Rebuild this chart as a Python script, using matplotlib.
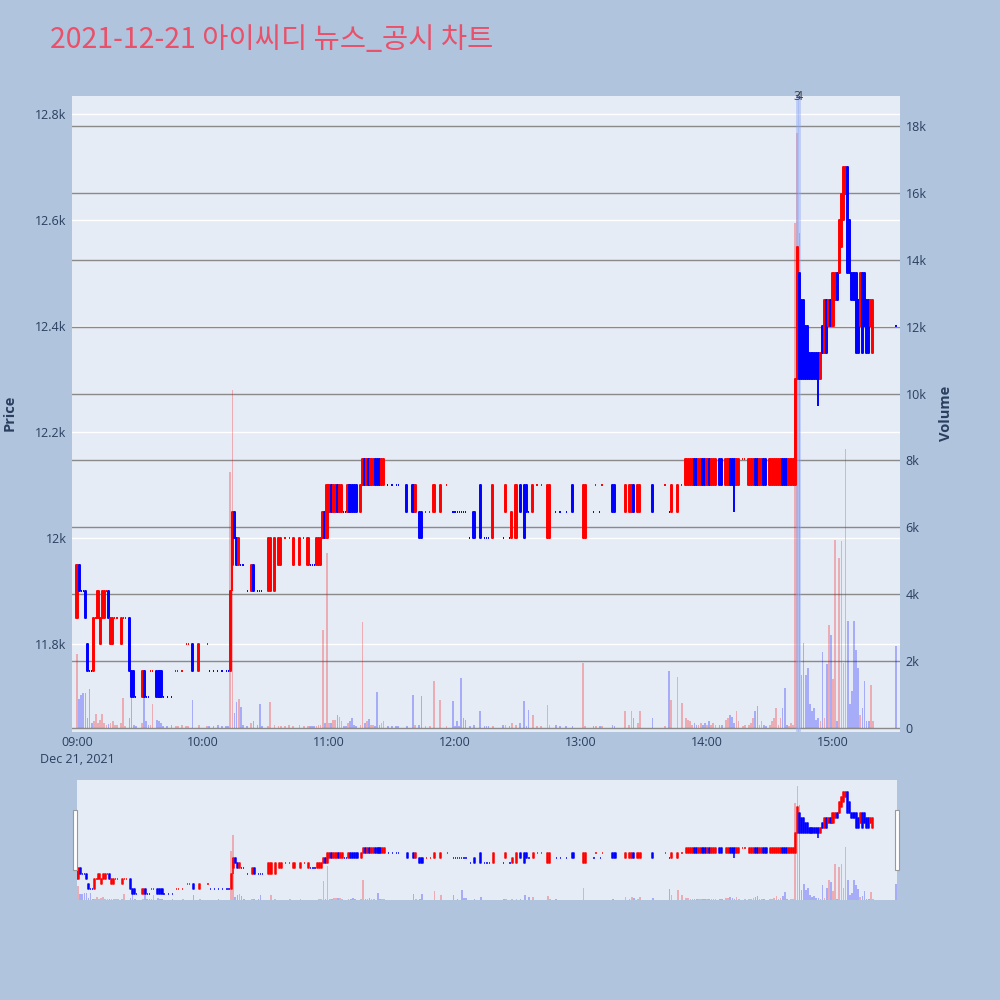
import matplotlib.pyplot as plt
from matplotlib.collections import PatchCollection, LineCollection
from matplotlib.patches import Rectangle

plt.rcParams['font.family'] = ['Open Sans', 'Noto Sans CJK KR', 'DejaVu Sans']

# 차트 데이터 (09:00 기준 분 단위)
title = '2021-12-21 아이씨디 뉴스_공시 차트'

minutes = [
    0, 1, 2, 3, 4, 5, 6, 7, 8, 9, 10, 11, 12, 13, 14, 15, 16, 17, 18, 19, 21, 22, 23, 25, 26, 27, 28,
    31, 32, 33, 34, 35, 36, 38, 39, 40, 41, 43, 45, 47, 48, 50, 52, 53, 55, 58, 62, 63, 65, 67, 69, 71, 72,
    73, 74, 75, 76, 77, 78, 79, 81, 83, 84, 86, 87, 88, 91, 92, 94, 96, 97, 99, 101, 103, 106, 108,
    110, 111, 112, 113, 114, 115, 116, 117, 118, 119, 120, 121, 122, 123, 124, 125, 126, 127, 128, 129,
    130, 131, 132, 133, 135, 136, 137, 138, 139, 140, 141, 142, 143, 144, 145, 146, 148, 150, 152, 153,
    157, 160, 161, 163, 164, 166, 168, 170, 173, 176, 179, 180, 181, 182, 183, 184, 185, 187, 189, 192,
    194, 195, 196, 198, 203, 204, 206, 207, 209, 211, 213, 214, 215, 217, 219, 221, 224, 225, 228, 230,
    233, 236, 241, 242, 246, 247, 249, 250, 255, 256, 261, 263, 264, 265, 267, 268, 274, 280, 282, 283,
    286, 288, 290, 291, 292, 293, 294, 295, 296, 297, 298, 299, 300, 301, 302, 303, 304, 306, 307, 309,
    310, 311, 312, 313, 314, 315, 317, 318, 320, 321, 322, 323, 324, 325, 326, 327, 328, 330, 331, 332,
    333, 334, 335, 336, 337, 338, 339, 340, 341, 342, 343, 344, 345, 346, 347, 348, 349, 350, 351, 352,
    353, 354, 355, 356, 357, 358, 359, 360, 361, 362, 363, 364, 365, 366, 367, 368, 369, 370, 371, 372,
    373, 374, 375, 376, 377, 378, 379, 390,
]
opens = [
    11850, 11950, 11900, 11900, 11900, 11800, 11750, 11750, 11750, 11850, 11850, 11800, 11850, 11850, 11900,
    11900, 11800, 11800, 11850, 11850, 11800, 11850, 11850, 11850, 11750, 11750, 11700,
    11700, 11750, 11700, 11700, 11750, 11750, 11750, 11750, 11750, 11700, 11700, 11700, 11750, 11750, 11750,
    11800, 11800, 11800, 11750, 11800, 11750, 11750, 11750, 11750, 11750, 11750,
    11750, 11950, 12050, 12000, 11950, 11950, 11950, 11900, 11900, 11950, 11900, 11900, 11900, 11900, 11900,
    11900, 11950, 11950, 12000, 12000, 11950, 11950, 12000,
    11950, 11950, 11950, 11950, 11950, 11950, 11950, 12000, 12050, 12000, 12050, 12100, 12050, 12050, 12100,
    12050, 12050, 12050, 12050, 12050,
    12100, 12100, 12100, 12100, 12050, 12100, 12150, 12100, 12150, 12100, 12100, 12150, 12150, 12150, 12100,
    12100, 12100, 12100, 12100, 12100,
    12100, 12100, 12050, 12050, 12050, 12050, 12050, 12050, 12050, 12100, 12050, 12050, 12050, 12050, 12050,
    12050, 12050, 12000, 12050, 12100,
    12000, 12000, 12000, 12000, 12000, 12050, 12000, 12000, 12000, 12100, 12100, 12100, 12050, 12050, 12100,
    12100, 12000, 12000, 12050, 12050,
    12050, 12100, 12000, 12000, 12050, 12100, 12050, 12100, 12100, 12100, 12050, 12050, 12050, 12100, 12050,
    12050, 12100, 12100, 12050, 12050,
    12050, 12100, 12100, 12100, 12100, 12100, 12150, 12150, 12100, 12100, 12150, 12150, 12100, 12150, 12100,
    12100, 12100, 12150, 12150, 12100,
    12100, 12150, 12150, 12150, 12100, 12100, 12150, 12150, 12100, 12100, 12100, 12150, 12150, 12100, 12100,
    12150, 12150, 12100, 12100, 12100,
    12100, 12100, 12100, 12150, 12150, 12150, 12100, 12100, 12100, 12100, 12300, 12500, 12450, 12450, 12400,
    12400, 12350, 12350, 12350, 12350,
    12350, 12300, 12400, 12350, 12450, 12400, 12450, 12400, 12450, 12500, 12500, 12550, 12600, 12650, 12700,
    12600, 12500, 12500, 12500, 12450,
    12400, 12500, 12500, 12450, 12450, 12400, 12350, 12400,
]
closes = [
    11950, 11900, 11900, 11900, 11850, 11750, 11750, 11750, 11850, 11850, 11900, 11850, 11900, 11900, 11900,
    11850, 11850, 11850, 11850, 11850, 11850, 11850, 11850, 11750, 11700, 11700, 11700,
    11750, 11700, 11700, 11700, 11750, 11750, 11700, 11700, 11700, 11700, 11700, 11700, 11750, 11750, 11750,
    11800, 11800, 11750, 11800, 11800, 11750, 11750, 11750, 11750, 11750, 11750,
    11900, 12050, 12000, 11950, 12000, 11950, 11950, 11900, 11950, 11900, 11900, 11900, 11900, 12000, 12000,
    12000, 12000, 12000, 12000, 12000, 12000, 12000, 12000,
    12000, 11950, 11950, 11950, 12000, 12000, 12000, 12050, 12000, 12100, 12100, 12050, 12100, 12100, 12050,
    12100, 12100, 12050, 12050, 12100,
    12050, 12050, 12050, 12050, 12100, 12150, 12100, 12150, 12100, 12150, 12150, 12100, 12100, 12100, 12150,
    12150, 12100, 12100, 12100, 12100,
    12050, 12050, 12100, 12000, 12000, 12050, 12050, 12100, 12100, 12100, 12050, 12050, 12050, 12050, 12050,
    12050, 12050, 12000, 12000, 12000,
    12000, 12000, 12000, 12100, 12000, 12100, 12000, 12050, 12100, 12050, 12000, 12050, 12050, 12100, 12100,
    12100, 12100, 12100, 12050, 12050,
    12050, 12050, 12100, 12100, 12050, 12100, 12050, 12100, 12050, 12050, 12100, 12100, 12100, 12050, 12100,
    12100, 12050, 12100, 12050, 12100,
    12100, 12100, 12150, 12150, 12150, 12150, 12100, 12100, 12150, 12150, 12100, 12100, 12150, 12100, 12150,
    12150, 12150, 12100, 12100, 12150,
    12150, 12100, 12100, 12100, 12150, 12150, 12150, 12150, 12150, 12150, 12150, 12100, 12100, 12150, 12150,
    12100, 12100, 12150, 12150, 12150,
    12150, 12150, 12150, 12100, 12100, 12100, 12150, 12150, 12150, 12300, 12550, 12300, 12300, 12300, 12300,
    12300, 12300, 12300, 12300, 12300,
    12300, 12350, 12350, 12450, 12350, 12450, 12400, 12500, 12500, 12450, 12600, 12650, 12700, 12700, 12500,
    12500, 12450, 12450, 12350, 12350,
    12500, 12350, 12400, 12350, 12350, 12450, 12450, 12400,
]
volumes = [
    2200, 870, 990, 1050, 1050, 300, 1160, 150, 200, 420, 150, 250, 420, 150, 100,
    120, 150, 200, 100, 80, 150, 900, 60, 300, 1140, 100, 60,
    150, 900, 200, 100, 80, 720, 250, 200, 150, 60, 60, 100, 60, 60, 80,
    60, 60, 840, 100, 60, 60, 60, 100, 60, 60, 60,
    7650, 10100, 450, 780, 870, 630, 100, 60, 150, 200, 100, 720, 60, 60, 780,
    100, 60, 60, 60, 100, 60, 80, 60,
    60, 60, 60, 60, 60, 100, 100, 2930, 150, 5240, 150, 150, 240, 250, 380,
    320, 200, 60, 60, 150,
    200, 300, 100, 60, 100, 3170, 150, 200, 280, 100, 100, 60, 1080, 100, 150,
    200, 60, 60, 60, 60,
    60, 1000, 80, 100, 960, 60, 60, 1400, 850, 60, 800, 60, 200, 60, 1500,
    300, 250, 60, 100, 500,
    60, 60, 60, 60, 80, 100, 60, 150, 100, 150, 800, 60, 530, 400, 60,
    60, 700, 100, 80, 60,
    60, 60, 1940, 60, 60, 60, 60, 60, 100, 60, 520, 100, 520, 300, 150,
    520, 300, 60, 1700, 850,
    1520, 760, 300, 250, 200, 100, 150, 100, 100, 150, 80, 150, 100, 200, 100,
    150, 100, 100, 100, 250,
    300, 400, 320, 150, 500, 200, 60, 100, 100, 150, 300, 500, 650, 100, 200,
    100, 60, 100, 200, 300,
    590, 100, 300, 600, 1200, 100, 60, 150, 100, 15100, 17800, 14800, 1580, 2540, 1580,
    1800, 720, 500, 600, 250,
    300, 200, 2270, 300, 1910, 3080, 2780, 1470, 5620, 200, 5080, 5590, 1950, 8340, 3200,
    720, 1100, 3200, 2330, 1790,
    400, 600, 1400, 200, 200, 1290, 200, 2450,
]

# 꼬리(고가/저가)가 몸통을 벗어나는 봉
wick_minutes = [74, 313, 353]
wick_highs = [12050, 12150, 12350]
wick_lows = [11900, 12050, 12250]

# 뉴스/공시 표시
news_minutes = [342.9, 343.8]
news_labels = ['3', '4']

price_ticks = [11800, 12000, 12200, 12400, 12600, 12800]
price_labels = ['11.8k', '12k', '12.2k', '12.4k', '12.6k', '12.8k']
vol_ticks = [0, 2000, 4000, 6000, 8000, 10000, 12000, 14000, 16000, 18000]
vol_labels = ['0', '2k', '4k', '6k', '8k', '10k', '12k', '14k', '16k', '18k']
hour_ticks = [0, 60, 120, 180, 240, 300, 360]
hour_labels = ['09:00\nDec 21, 2021', '10:00', '11:00', '12:00', '13:00', '14:00', '15:00']

UP = '#ff0000'
DOWN = '#0000ff'
UP_VOL = (1.0, 0.0, 0.0, 0.27)
DOWN_VOL = (0.0, 0.0, 1.0, 0.27)
BG = '#e5ecf6'
TXT = '#2a3f5f'

# plotly 방식: 시가==종가면 직전 종가와 비교
ups = []
prev_close = None
up = True
for o, c in zip(opens, closes):
    if c != o:
        up = c > o
    elif prev_close is not None and c != prev_close:
        up = c > prev_close
    ups.append(up)
    prev_close = c


def draw_chart(ax_price, ax_vol, body_w, lw):
    vol_cols = [UP_VOL if u else DOWN_VOL for u in ups]
    ax_vol.bar(minutes, volumes, width=0.8, color=vol_cols, linewidth=0, zorder=2)

    rects, cols = [], []
    for m, o, c, u in zip(minutes, opens, closes, ups):
        rects.append(Rectangle((m - body_w / 2, min(o, c)), body_w, abs(c - o)))
        cols.append(UP if u else DOWN)
    pc = PatchCollection(rects, facecolors=cols, edgecolors=cols, linewidths=lw,
                         transform=ax_price.transData, zorder=5)
    ax_vol.add_collection(pc, autolim=False)

    segs, wcols = [], []
    for m, h, l in zip(wick_minutes, wick_highs, wick_lows):
        segs.append([(m, l), (m, h)])
        wcols.append(cols[minutes.index(m)])
    lc = LineCollection(segs, colors=wcols, linewidths=lw, transform=ax_price.transData, zorder=5)
    ax_vol.add_collection(lc, autolim=False)


fig = plt.figure(figsize=(10, 10), dpi=100, facecolor='#b0c4de')

# 메인 차트
ax = fig.add_axes([0.072, 0.268, 0.828, 0.636])
ax.set_facecolor(BG)
axv = ax.twinx()

ax.set_xlim(-2.4, 391.9)
ax.set_ylim(11634, 12834)
axv.set_ylim(-120, 18897)

ax.set_yticks(price_ticks)
ax.set_yticklabels(price_labels)
axv.set_yticks(vol_ticks)
axv.set_yticklabels(vol_labels)
ax.set_xticks(hour_ticks)
ax.set_xticklabels(hour_labels, linespacing=1.35)

ax.grid(axis='y', color='white', linewidth=1.0, zorder=0)
axv.grid(axis='y', color='#8a8a8a', linewidth=1.0, zorder=1)
ax.set_axisbelow(True)
axv.set_axisbelow(True)

for a in (ax, axv):
    for s in a.spines.values():
        s.set_visible(False)
    a.tick_params(length=0, labelsize=9, labelcolor=TXT)
ax.tick_params(axis='x', pad=3)
ax.tick_params(axis='y', pad=4)
axv.tick_params(axis='y', pad=4)

draw_chart(ax, axv, 0.55, 1.4)

for m in news_minutes:
    axv.axvline(m, color=(0.55, 0.65, 0.95), alpha=0.45, linewidth=2.0, zorder=3)
for m, lab in zip(news_minutes, news_labels):
    axv.text(m, 18897, lab, ha='center', va='center', fontsize=9, color='#444444', zorder=6)

fig.text(0.05, 0.96, title, color='#e9506a', fontsize=20.5, ha='left', va='center',
         family=['Noto Sans CJK KR', 'DejaVu Sans'])
fig.text(0.010, 0.587, 'Price', rotation=90, ha='center', va='center',
         fontsize=10.5, fontweight='bold', color=TXT)
fig.text(0.946, 0.587, 'Volume', rotation=90, ha='center', va='center',
         fontsize=10.5, fontweight='bold', color=TXT)

# 레인지 슬라이더
sl = fig.add_axes([0.077, 0.100, 0.820, 0.120])
sl.set_facecolor(BG)
slv = sl.twinx()
sl.set_xlim(-0.5, 390.5)
sl.set_ylim(11640, 12820)
slv.set_ylim(0, 18740)
for a in (sl, slv):
    a.set_xticks([])
    a.set_yticks([])
    for s in a.spines.values():
        s.set_visible(False)
draw_chart(sl, slv, 0.55, 1.1)

for x0 in (0.073, 0.895):
    fig.patches.append(Rectangle((x0, 0.130), 0.004, 0.060, transform=fig.transFigure,
                                 facecolor='white', edgecolor='#999999', linewidth=0.8))

fig.savefig('out.png', dpi=100, facecolor=fig.get_facecolor())
